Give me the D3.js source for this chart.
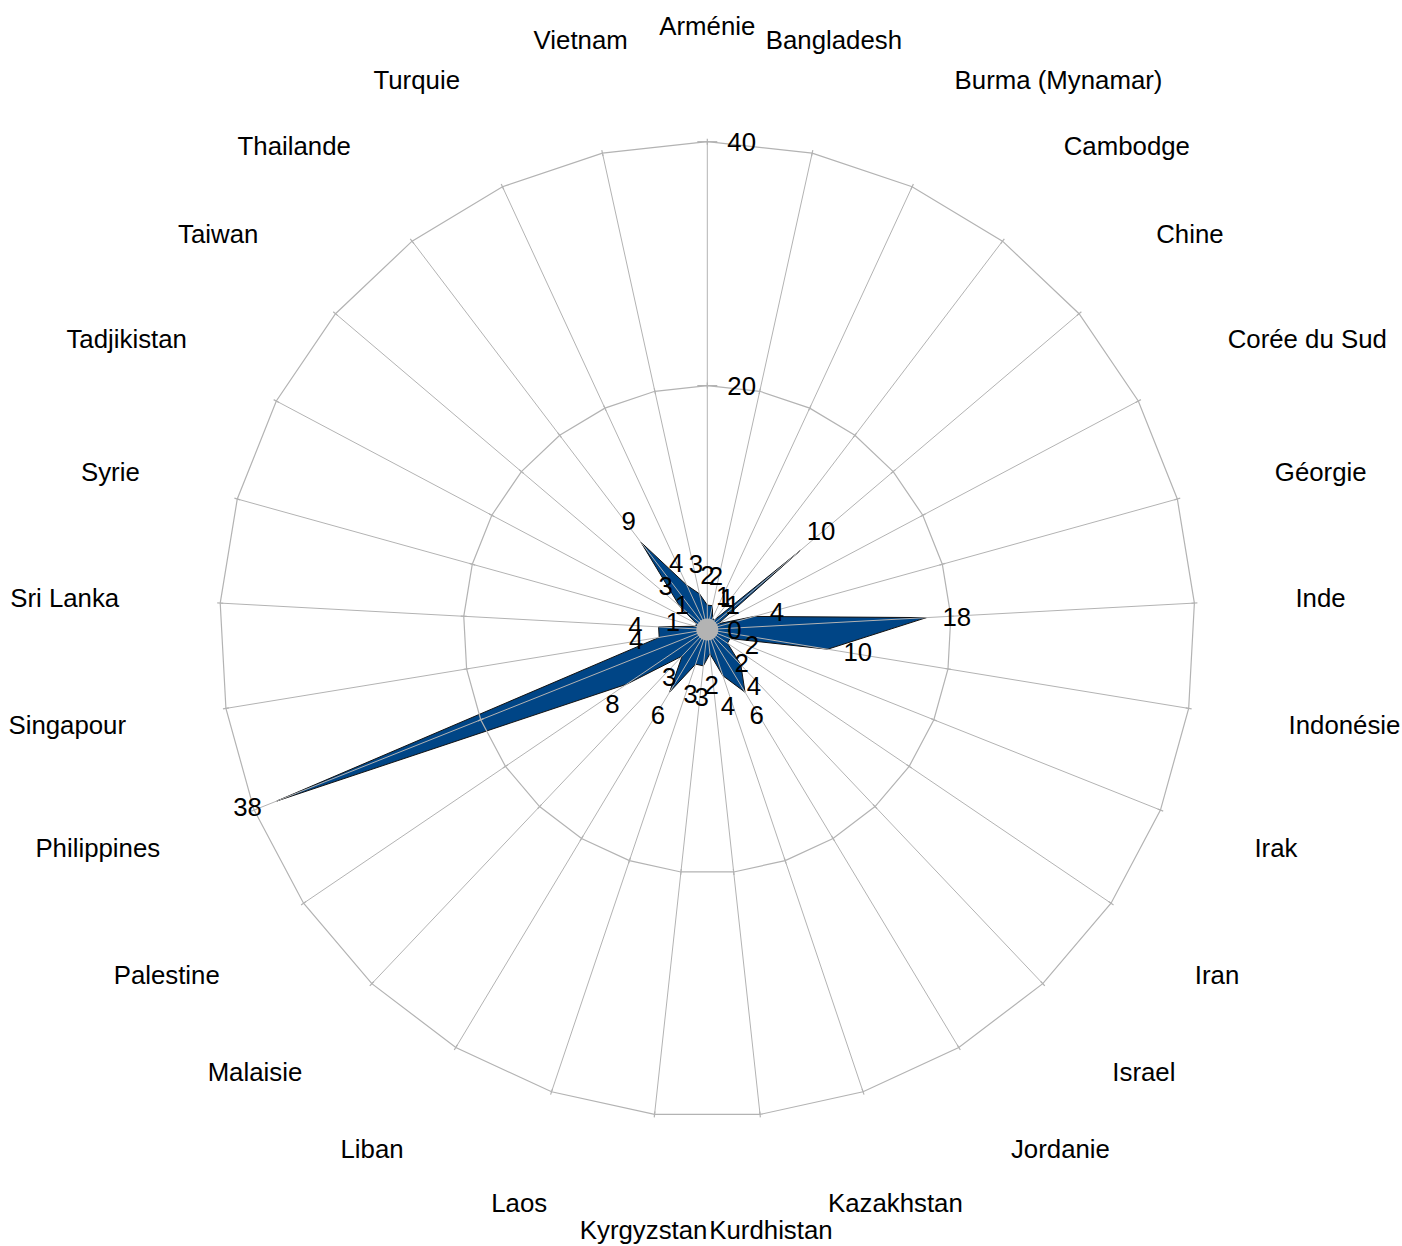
<!DOCTYPE html>
<html>
<head>
<meta charset="utf-8">
<script src="https://cdn.jsdelivr.net/npm/d3@7"></script>
<style>
  body { margin: 0; background: #ffffff; }
  svg text { font-family: "Liberation Sans", Arial, sans-serif; fill: #000; }
</style>
</head>
<body>
<svg id="chart" width="1402" height="1246"></svg>
<script>
// countries, clockwise from the top
var categories = ["Arménie", "Bangladesh", "Burma (Mynamar)", "Cambodge", "Chine", "Corée du Sud",
    "Géorgie", "Inde", "Indonésie", "Irak", "Iran", "Israel", "Jordanie", "Kazakhstan", "Kurdhistan",
    "Kyrgyzstan", "Laos", "Liban", "Malaisie", "Palestine", "Philippines", "Singapour", "Sri Lanka",
    "Syrie", "Tadjikistan", "Taiwan", "Thailande", "Turquie", "Vietnam"];
var values = [2, 2, 1, 1, 10, 1, 4, 18, 10, 2, 2, 4, 6, 4, 2, 3, 3, 6, 3, 8, 38, 4, 4, 1, 1, 3, 9, 4, 3];
var radialTicks = [0, 20, 40];

var cx = 707.3, cy = 629.5, outerR = 487.8;
var fontSize = 25.8;
var boxH = fontSize * 1.15;

var svg = d3.select("svg#chart");
var g = svg.append("g").attr("transform", "translate(" + cx + "," + cy + ")");

var r = d3.scaleLinear().domain([0, 40]).range([0, outerR]);
var angle = d3.scaleLinear().domain([0, categories.length]).range([0, 2 * Math.PI]);

function pos(i, rad) {
    var a = angle(i);
    return [rad * Math.sin(a), -rad * Math.cos(a)];
}

// series area
var area = d3.lineRadial()
    .angle(function (d, i) { return angle(i); })
    .radius(function (d) { return r(d); })
    .curve(d3.curveLinearClosed);

g.append("path")
    .attr("d", area(values))
    .attr("fill", "#004586")
    .attr("stroke", "#111")
    .attr("stroke-width", 1)
    .attr("stroke-linejoin", "miter");

// grid drawn over the area, like the original
g.append("g").selectAll("line")
    .data(categories)
    .enter().append("line")
    .attr("x1", 0).attr("y1", 0)
    .attr("x2", function (d, i) { return pos(i, r(40))[0]; })
    .attr("y2", function (d, i) { return pos(i, r(40))[1]; })
    .attr("stroke", "#b3b3b3").attr("stroke-width", 1);

var ring = d3.lineRadial()
    .angle(function (d, i) { return angle(i); })
    .radius(function (d) { return d; })
    .curve(d3.curveLinearClosed);

g.append("g").selectAll("path")
    .data(radialTicks.filter(function (t) { return t > 0; }))
    .enter().append("path")
    .attr("d", function (t) { return ring(categories.map(function () { return r(t); })); })
    .attr("fill", "none")
    .attr("stroke", "#b3b3b3").attr("stroke-width", 1.2);

// small marks at each ring vertex
var marks = [];
radialTicks.filter(function (t) { return t > 0; }).forEach(function (t) {
    categories.forEach(function (c, i) { marks.push({ t: t, i: i }); });
});
g.append("g").selectAll("line")
    .data(marks)
    .enter().append("line")
    .attr("x1", function (d) { return pos(d.i, r(d.t) - 3)[0]; })
    .attr("y1", function (d) { return pos(d.i, r(d.t) - 3)[1]; })
    .attr("x2", function (d) { return pos(d.i, r(d.t) + 3)[0]; })
    .attr("y2", function (d) { return pos(d.i, r(d.t) + 3)[1]; })
    .attr("stroke", "#b3b3b3").attr("stroke-width", 1.2);

// axis ticks on the vertical axis
g.append("g").selectAll("line")
    .data(radialTicks.filter(function (t) { return t > 0; }))
    .enter().append("line")
    .attr("x1", -10).attr("x2", 10)
    .attr("y1", function (t) { return -r(t); })
    .attr("y2", function (t) { return -r(t); })
    .attr("stroke", "#b3b3b3").attr("stroke-width", 1.2);

g.append("circle").attr("r", 11).attr("fill", "#b3b3b3");

// axis labels
g.append("g").selectAll("text")
    .data(radialTicks)
    .enter().append("text")
    .attr("x", 20)
    .attr("y", function (t) { return -r(t) + fontSize * 0.36; })
    .attr("font-size", fontSize)
    .text(function (t) { return t; });

// place a label box next to an anchor, sector by sector (8 compass sectors)
function placeLabel(sel, i, ax, ay) {
    var deg = angle(i) * 180 / Math.PI;
    var s = Math.round(deg / 45) % 8;
    var anchor = "middle", yc = ay;
    if (s === 1 || s === 2 || s === 3) anchor = "start";
    if (s === 5 || s === 6 || s === 7) anchor = "end";
    if (s === 7 || s === 0 || s === 1) yc = ay - boxH / 2;
    if (s === 3 || s === 4 || s === 5) yc = ay + boxH / 2;
    sel.attr("x", ax).attr("y", yc + fontSize * 0.36).attr("text-anchor", anchor);
}

// category labels
var catR = 589;
g.append("g").selectAll("text")
    .data(categories)
    .enter().append("text")
    .attr("font-size", fontSize)
    .text(function (d) { return d; })
    .each(function (d, i) {
        var p = pos(i, catR);
        placeLabel(d3.select(this), i, p[0], p[1]);
    });

// data labels
g.append("g").selectAll("text")
    .data(values)
    .enter().append("text")
    .attr("font-size", fontSize)
    .text(function (d) { return d; })
    .each(function (d, i) {
        var s = Math.round(angle(i) * 180 / Math.PI / 45) % 8;
        var off = (s % 2 === 0) ? 16 : 8.5;
        var p = pos(i, r(d) + off);
        placeLabel(d3.select(this), i, p[0], p[1]);
    });
</script>
</body>
</html>
